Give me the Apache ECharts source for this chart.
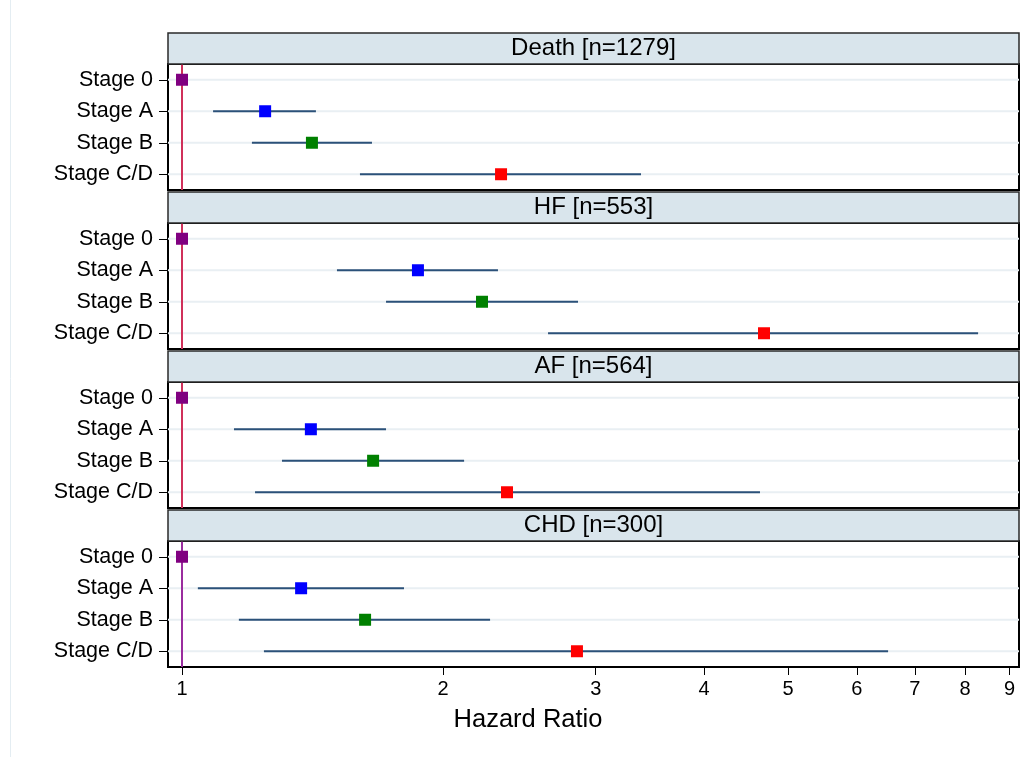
<!DOCTYPE html>
<html><head><meta charset="utf-8">
<script src="https://cdn.jsdelivr.net/npm/echarts@6/dist/echarts.min.js"></script>
<style>html,body{margin:0;background:#fff}#c{width:1026px;height:757px}</style>
</head><body><div id="c"></div>
<script>
const panels = ['Death [n=1279]', 'HF [n=553]', 'AF [n=564]', 'CHD [n=300]'];
const stages = ['Stage 0', 'Stage A', 'Stage B', 'Stage C/D'];
const hr = [
  [1, 1.247, 1.412, 2.333],
  [1, 1.871, 2.218, 4.69],
  [1, 1.408, 1.661, 2.370],
  [1, 1.372, 1.626, 2.854]
];
const ciLow = [
  [null, 1.086, 1.204, 1.604],
  [null, 1.509, 1.719, 2.643],
  [null, 1.148, 1.304, 1.214],
  [null, 1.043, 1.163, 1.243]
];
const ciHigh = [
  [null, 1.427, 1.656, 3.383],
  [null, 2.314, 2.862, 8.28],
  [null, 1.719, 2.115, 4.64],
  [null, 1.803, 2.266, 6.52]
];
const xTicks = [1, 2, 3, 4, 5, 6, 7, 8, 9];
const xTitle = 'Hazard Ratio';
const stageColors = ['#800080', '#0000ff', '#008000', '#ff0000'];
const refColors = ['#d0305a', '#d0305a', '#d0305a', '#9a2c9e'];

const FONT = 'Liberation Sans, Arial, Helvetica, sans-serif';
const PLOT_LEFT = 168, PLOT_RIGHT = 1019, PLOT_W = PLOT_RIGHT - PLOT_LEFT;
const PANEL_STEP = 159, PLOT_TOP0 = 64, PLOT_H = 126, HEAD_H = 31;
const XMIN = 0.9635, XMAX = 9.23;

const grid = [], xAxis = [], yAxis = [], series = [], graphic = [];

graphic.push({type: 'line', shape: {x1: 10.5, y1: 0, x2: 10.5, y2: 757}, style: {stroke: '#e4edf2', lineWidth: 1}, silent: true});

panels.forEach((title, i) => {
  const top = PLOT_TOP0 + i * PANEL_STEP;
  const last = i === panels.length - 1;
  grid.push({left: PLOT_LEFT, width: PLOT_W, top: top, height: PLOT_H, show: true,
    borderColor: '#000', borderWidth: 2, backgroundColor: '#fff'});
  xAxis.push({
    type: 'log', gridIndex: i, min: XMIN, max: XMAX, logBase: 10,
    show: true,
    axisLine: {show: false},
    splitLine: {show: false},
    minorTick: {show: false},
    axisTick: {show: last, length: 8, lineStyle: {color: '#000', width: 1}, customValues: xTicks},
    axisLabel: {show: last, customValues: xTicks, fontFamily: FONT, fontSize: 20, color: '#000', margin: 12,
      formatter: v => String(Math.round(v))}
  });
  yAxis.push({
    type: 'category', gridIndex: i, data: stages, inverse: true,
    axisLine: {show: false},
    axisTick: {show: true, alignWithLabel: true, length: 9, lineStyle: {color: '#000', width: 1}},
    axisLabel: {fontFamily: FONT, fontSize: 21.5, color: '#000', margin: 15},
    splitLine: {show: false}
  });
  // light row gridlines
  series.push({
    type: 'custom', xAxisIndex: i, yAxisIndex: i, z: 1, silent: true,
    data: stages.map((s, j) => [1, j]),
    encode: {x: 0, y: 1},
    renderItem: (params, api) => {
      const p = api.coord([api.value(0), api.value(1)]);
      const cs = params.coordSys;
      return {type: 'line', shape: {x1: cs.x, y1: p[1], x2: cs.x + cs.width, y2: p[1]},
        style: {stroke: '#e9eff3', lineWidth: 2}};
    }
  });
  // CI lines
  const ciData = [];
  stages.forEach((s, j) => { if (ciLow[i][j] != null) ciData.push([ciLow[i][j], j, ciHigh[i][j]]); });
  series.push({
    type: 'custom', xAxisIndex: i, yAxisIndex: i, z: 3, silent: true,
    data: ciData,
    encode: {x: [0, 2], y: 1},
    renderItem: (params, api) => {
      const p1 = api.coord([api.value(0), api.value(1)]);
      const p2 = api.coord([api.value(2), api.value(1)]);
      return {type: 'line', shape: {x1: p1[0], y1: p1[1], x2: p2[0], y2: p2[1]},
        style: {stroke: '#2b5179', lineWidth: 2}};
    }
  });
  // point estimates + reference line
  series.push({
    type: 'scatter', xAxisIndex: i, yAxisIndex: i, z: 5, silent: true,
    symbol: 'rect', symbolSize: 12,
    data: stages.map((s, j) => ({value: [hr[i][j], j], itemStyle: {color: stageColors[j], opacity: 1}})),
    markLine: {
      silent: true, symbol: 'none', z: 2,
      label: {show: false},
      lineStyle: {color: refColors[i], width: 2, type: 'solid'},
      data: [{xAxis: 1}]
    }
  });
  graphic.push({type: 'rect', shape: {x: PLOT_LEFT, y: top - HEAD_H, width: PLOT_W, height: HEAD_H},
    style: {fill: '#d9e5ec', stroke: '#2a2a2a', lineWidth: 1.5}, z: 10, silent: true});
  graphic.push({type: 'text', x: PLOT_LEFT + PLOT_W / 2, y: top - HEAD_H / 2,
    style: {text: title, fontFamily: FONT, fontSize: 24, fill: '#000', align: 'center', verticalAlign: 'middle'},
    z: 11, silent: true});
});

graphic.push({type: 'text', x: 528, y: 720,
  style: {text: xTitle, fontFamily: FONT, fontSize: 25.5, fill: '#000', align: 'center', verticalAlign: 'middle'},
  z: 11, silent: true});

const chart = echarts.init(document.getElementById('c'), null, {renderer: 'canvas'});
chart.setOption({animation: false, backgroundColor: '#fff', grid, xAxis, yAxis, series, graphic});
</script></body></html>
